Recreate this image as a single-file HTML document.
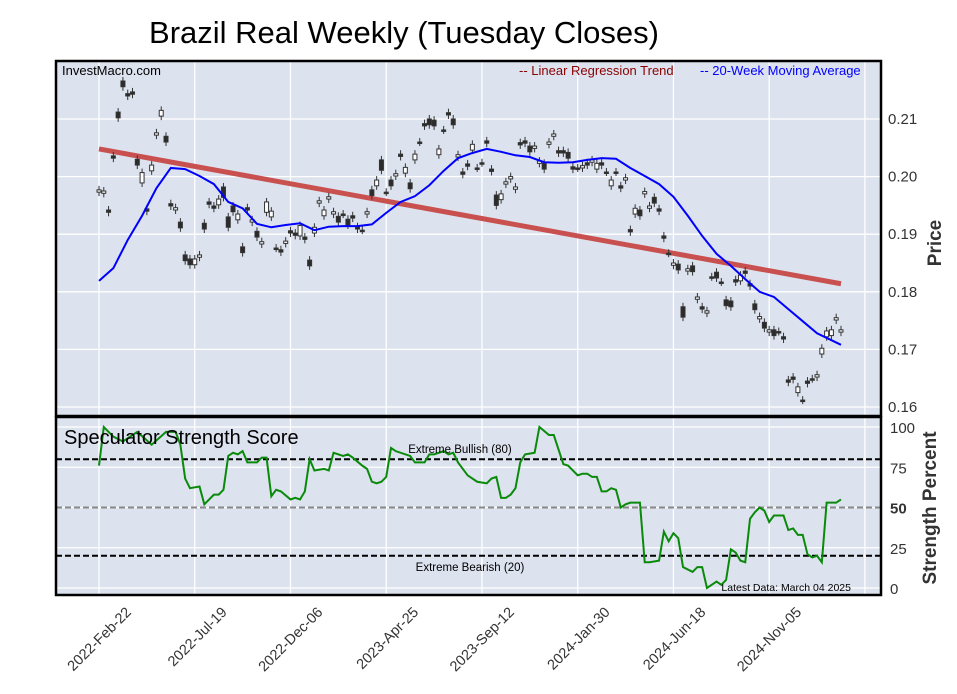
<!DOCTYPE html>
<html><head><meta charset="utf-8"><style>
html,body{margin:0;padding:0;background:#fff;}
svg{display:block;font-family:"Liberation Sans",sans-serif;}
</style></head><body>
<svg id="chart" width="957" height="694" viewBox="0 0 957 694" xmlns="http://www.w3.org/2000/svg">
<text x="404" y="43" text-anchor="middle" font-size="31" fill="#000">Brazil Real Weekly (Tuesday Closes)</text>
<rect x="56" y="61" width="825" height="355" fill="#dce2ee"/>
<rect x="56" y="417" width="825" height="178" fill="#dce2ee"/>
<g id="grid"></g>
<g id="marks"></g>
<rect x="56" y="61" width="825" height="355" fill="none" stroke="#000" stroke-width="2.5"/>
<rect x="56" y="417" width="825" height="178" fill="none" stroke="#000" stroke-width="2.5"/>
<text x="62" y="75" font-size="13" fill="#000">InvestMacro.com</text>
<text x="519" y="75" font-size="13" fill="#8b0000">-- Linear Regression Trend</text>
<text x="700" y="75" font-size="13" fill="#0000ff">-- 20-Week Moving Average</text>
<text x="64" y="444" font-size="20" fill="#000">Speculator Strength Score</text>
<text x="460" y="453" font-size="11.5" text-anchor="middle" fill="#000">Extreme Bullish (80)</text>
<text x="470" y="571" font-size="11.5" text-anchor="middle" fill="#000">Extreme Bearish (20)</text>
<text x="851" y="591" font-size="10.5" text-anchor="end" fill="#000">Latest Data: March 04 2025</text>
<text transform="translate(941,243) rotate(-90)" font-size="19" font-weight="bold" text-anchor="middle" fill="#333">Price</text>
<text transform="translate(936,508) rotate(-90)" font-size="19" font-weight="bold" text-anchor="middle" fill="#333">Strength Percent</text>
<g id="axes"></g>
</svg>
<script>
const bodyMid=[.1975,.1973,.1940,.2034,.2107,.2161,.2142,.2145,.2025,.1998,.1942,.2015,.2074,.2110,.2065,.1951,.1944,.1916,.1859,.1852,.1852,.1862,.1914,.1954,.1947,.1956,.1973,.1921,.1944,.1930,.1873,.1944,.1923,.1900,.1885,.1947,.1935,.1876,.1871,.1886,.1904,.1900,.1906,.1893,.1850,.1907,.1956,.1937,.1963,.1937,.1926,.1935,.1921,.1930,.1911,.1907,.1937,.1972,.1989,.2020,.1973,.1989,.2003,.2037,.2011,.1984,.2034,.2060,.2090,.2095,.2093,.2043,.2081,.2109,.2095,.2036,.2006,.2020,.2051,.2015,.2024,.2060,.2011,.1959,.1965,.1989,.1998,.1980,.2057,.2060,.2048,.2051,.2025,.2018,.2058,.2072,.2043,.2043,.2037,.2015,.2015,.2017,.2022,.2027,.2018,.2022,.2008,.1989,.2008,.1982,.1996,.1906,.1940,.1937,.1972,.1947,.1959,.1942,.1895,.1867,.1848,.1843,.1765,.1838,.1840,.1789,.1772,.1765,.1826,.1829,.1817,.1781,.1779,.1819,.1824,.1834,.1812,.1774,.1755,.1742,.1732,.1729,.1731,.1720,.1645,.1650,.1630,.1612,.1643,.1649,.1654,.1697,.1727,.1729,.1753,.1732];
const bodyChange=[.0004,.0004,-.0004,-.0004,-.001,-.001,-.0004,-.0004,-.001,.0018,-.0004,.001,.0004,.001,-.001,-.0004,.0004,-.001,-.001,-.001,.001,.0004,-.001,-.0004,-.0004,.001,-.0018,-.0018,-.001,.001,-.001,-.0004,.0004,-.001,.0004,.0018,.001,0,-.0004,.0004,-.0004,-.0004,.0018,-.0004,-.001,.001,.0004,.001,.0004,.0004,-.001,0,-.001,-.0004,-.0004,0,.0004,-.001,.001,-.0018,0,-.001,.0004,-.0004,.001,-.001,.001,0,-.0004,-.001,-.001,.001,0,-.0004,-.001,.0004,-.0004,-.0004,.001,0,0,-.0004,-.0004,-.0018,.001,.0004,.0004,.0004,-.0004,-.0004,-.001,.0004,.0004,-.001,.0004,.0004,-.0004,-.0004,-.001,-.0004,0,.0004,-.0004,.0004,.001,-.0004,0,.001,0,-.0004,.0004,-.0004,.001,-.001,.0004,.0004,-.001,-.0004,-.0004,0,.0004,-.001,-.0018,.0004,-.001,.0004,-.0004,.0004,0,-.001,0,-.001,-.001,-.0004,.001,-.0004,-.0004,-.001,.0004,-.001,.0004,-.001,0,-.0004,-.0004,-.0004,.001,0,-.0004,0,.0004,.001,.001,.001,.0004,.0004];
const maWeek=[0,3,6,9,12,15,18,21,24,27,30,33,36,39,42,45,48,51,54,57,60,63,66,69,72,75,78,81,84,87,90,93,96,99,102,105,108,111,114,117,120,123,126,129,132,135,138,141,144,147,150,153,155];
const maValue=[.1819,.1841,.1890,.1932,.1980,.2015,.2013,.2001,.1987,.1956,.1945,.1918,.1912,.1916,.1919,.1907,.1913,.1914,.1914,.1917,.1937,.1956,.1966,.1985,.2010,.2032,.2041,.2048,.2043,.2037,.2034,.2025,.2024,.2025,.2029,.2032,.2031,.2015,.2001,.1987,.1965,.1932,.1897,.1866,.1845,.1822,.1800,.1791,.1770,.1749,.1728,.1716,.1708];
const trendWeek=[0,155];
const trendValue=[.2048,.1814];
const sssWeek=[0,1,3,5,8,11,14,16,17,18,19,21,22,24,25,26,27,28,29,30,31,33,34,35,36,37,38,40,41,42,43,44,45,47,48,49,51,52,53,55,56,57,58,59,60,61,62,65,66,68,69,70,72,73,74,75,77,79,81,82,83,84,85,86,87,88,89,91,92,94,95,97,98,100,101,102,103,104,105,106,107,108,109,110,111,113,114,115,117,118,119,120,121,122,124,125,126,127,129,130,131,132,133,134,135,136,137,138,139,140,141,143,144,145,146,147,148,149,150,151,152,153,154,155];
const sssValue=[76,100,94,91,97,89,97,97,89,68,62,63,52,58,58,61,82,84,83,85,78,78,81,81,57,61,60,55,56,55,60,80,73,74,73,84,82,83,81,76,74,66,65,66,69,87,85,82,78,78,83,83,85,83,84,78,70,66,65,68,69,56,56,58,62,78,83,84,100,95,95,77,76,70,71,71,69,69,60,60,62,61,50,52,53,53,16,16,17,35,29,34,31,13,10,13,13,0,4,2,5,24,22,17,16,43,47,50,48,41,45,45,36,37,33,33,21,19,20,16,53,53,53,55];
const priceTicks=[0.16,0.17,0.18,0.19,0.20,0.21];
const sssTicks=[0,25,50,75,100];
const dateLabels=["2022-Feb-22","2022-Jul-19","2022-Dec-06","2023-Apr-25","2023-Sep-12","2024-Jan-30","2024-Jun-18","2024-Nov-05"];
const gridStep=20;

const NS="http://www.w3.org/2000/svg";
const xOf=i=>99+i*4.787;
const yP=p=>119+(0.21-p)*5760;
const yS=v=>588-v*1.61;
function mk(tag,attrs,parent){const e=document.createElementNS(NS,tag);for(const k in attrs)e.setAttribute(k,attrs[k]);parent.appendChild(e);return e;}
const grid=document.getElementById('grid'),marks=document.getElementById('marks'),axes=document.getElementById('axes');
for(let i=0;xOf(i)<880;i+=gridStep){
  const x=xOf(i);
  const l1=mk('line',{x1:x,x2:x,y1:61,y2:416,stroke:'#fff','stroke-width':1.3},grid);
  
  
  const l2=mk('line',{x1:x,x2:x,y1:417,y2:595,stroke:'#fff','stroke-width':1.3},grid);
  
  
}
priceTicks.forEach(p=>{
  const y=yP(p);
  const l=mk('line',{x1:56,x2:881,y1:y,y2:y,stroke:'#fff','stroke-width':1.3},grid);
  
  
  const t=mk('text',{x:888,y:y+5,'font-size':15,fill:'#333'},axes);
  t.textContent=p.toFixed(2);
  
  
});
sssTicks.forEach(v=>{
  const y=yS(v);
  const l=mk('line',{x1:56,x2:881,y1:y,y2:y,stroke:'#fff','stroke-width':1.3},grid);
  
  
  const t=mk('text',{x:890,y:y+6,'font-size':15,fill:'#333'},axes);
  if(v===50)t.setAttribute('font-weight','bold');
  t.textContent=String(v);
  
  
});
[[80,'#000'],[50,'#888'],[20,'#000']].forEach(([v,c])=>{
  const l=mk('line',{x1:56,x2:881,y1:yS(v),y2:yS(v),stroke:c,'stroke-width':2,'stroke-dasharray':'6,3'},marks);
  
  
});
dateLabels.forEach((d,k)=>{
  const x=xOf(k*gridStep);
  const t=mk('text',{transform:`translate(${x+33},${613}) rotate(-45)`,'text-anchor':'end','font-size':14.5,fill:'#333'},axes);
  t.textContent=d;
  
  
});
const tr=mk('line',{x1:xOf(trendWeek[0]),y1:yP(trendValue[0]),x2:xOf(trendWeek[1]),y2:yP(trendValue[1]),stroke:'#c8504f','stroke-width':5},marks);


bodyMid.forEach((m,i)=>{
  const x=xOf(i);
  const o=m-bodyChange[i]/2,c=m+bodyChange[i]/2;
  const yt=yP(Math.max(o,c)),yb=yP(Math.min(o,c));
  const g=mk('g',{},marks);
  
  
  mk('line',{x1:x,x2:x,y1:yt-4,y2:yb+4,stroke:'#333','stroke-width':1},g);
  const up=bodyChange[i]>0;
  const h=Math.max(yb-yt,1.5);
  mk('rect',{x:x-2,y:yt,width:4,height:h,fill:up?'#fff':'#2b2b2b',stroke:'#333','stroke-width':1},g);
});
const ma=mk('polyline',{points:maWeek.map((w,k)=>xOf(w)+','+yP(maValue[k])).join(' '),fill:'none',stroke:'#0000ff','stroke-width':2},marks);


const ss=mk('polyline',{points:sssWeek.map((w,k)=>xOf(w)+','+yS(sssValue[k])).join(' '),fill:'none',stroke:'#0a8a0a','stroke-width':2},marks);


</script>
</body></html>
